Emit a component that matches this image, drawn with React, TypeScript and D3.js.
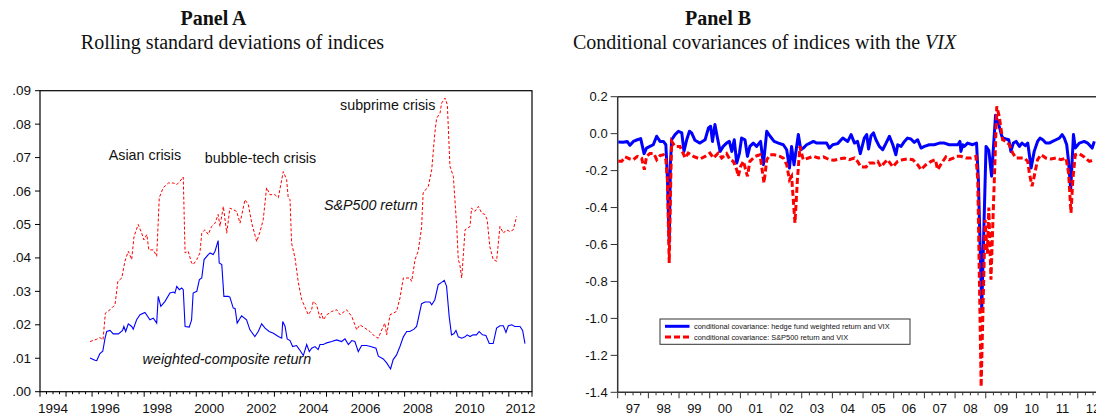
import React from 'react';
import * as d3 from 'd3';

// ---------- Panel A data (rolling standard deviations) ----------
const spStdYears = [1995.92,1996.18,1996.30,1996.42,1996.51,1996.69,1996.88,1996.99,1997.14,1997.26,1997.39,1997.52,1997.61,1997.77,1997.90,1997.99,1998.10,1998.18,1998.35,1998.48,1998.58,1998.73,1998.93,1999.12,1999.25,1999.37,1999.50,1999.57,1999.69,1999.82,1999.88,2000.02,2000.14,2000.21,2000.33,2000.46,2000.59,2000.72,2000.84,2000.91,2001.04,2001.17,2001.29,2001.42,2001.55,2001.68,2001.87,2002.00,2002.13,2002.32,2002.45,2002.57,2002.70,2002.83,2003.02,2003.15,2003.34,2003.47,2003.53,2003.60,2003.66,2003.79,2003.92,2004.05,2004.30,2004.43,2004.49,2004.62,2004.75,2004.81,2004.88,2005.01,2005.20,2005.39,2005.52,2005.77,2005.97,2006.16,2006.28,2006.48,2006.67,2006.86,2006.99,2007.12,2007.24,2007.31,2007.44,2007.69,2007.82,2007.95,2008.20,2008.27,2008.40,2008.52,2008.65,2008.71,2008.91,2009.04,2009.16,2009.23,2009.36,2009.42,2009.55,2009.64,2009.74,2009.87,2010.00,2010.06,2010.12,2010.19,2010.25,2010.32,2010.51,2010.57,2010.70,2010.83,2010.96,2011.08,2011.17,2011.27,2011.40,2011.53,2011.66,2011.79,2011.91,2012.04,2012.17,2012.30];
const spStd = [0.0150,0.0157,0.0162,0.0155,0.0235,0.0245,0.0260,0.0330,0.0340,0.0390,0.0420,0.0395,0.0464,0.0500,0.0475,0.0454,0.0470,0.0424,0.0424,0.0405,0.0580,0.0610,0.0624,0.0624,0.0619,0.0629,0.0642,0.0415,0.0420,0.0385,0.0380,0.0395,0.0415,0.0474,0.0484,0.0470,0.0494,0.0504,0.0530,0.0494,0.0554,0.0474,0.0549,0.0544,0.0539,0.0504,0.0574,0.0559,0.0504,0.0449,0.0479,0.0514,0.0610,0.0589,0.0589,0.0580,0.0658,0.0634,0.0580,0.0574,0.0444,0.0400,0.0325,0.0275,0.0230,0.0245,0.0270,0.0260,0.0220,0.0235,0.0215,0.0230,0.0240,0.0245,0.0230,0.0245,0.0225,0.0185,0.0200,0.0190,0.0180,0.0165,0.0160,0.0185,0.0205,0.0170,0.0230,0.0240,0.0280,0.0340,0.0340,0.0330,0.0395,0.0420,0.0490,0.0594,0.0614,0.0664,0.0774,0.0818,0.0833,0.0863,0.0878,0.0858,0.0674,0.0644,0.0494,0.0395,0.0380,0.0340,0.0405,0.0484,0.0494,0.0549,0.0539,0.0554,0.0534,0.0530,0.0514,0.0434,0.0395,0.0390,0.0494,0.0474,0.0484,0.0479,0.0484,0.0524];

const compStdYears = [1995.92,1996.11,1996.18,1996.30,1996.41,1996.50,1996.56,1996.69,1996.81,1997.01,1997.17,1997.22,1997.29,1997.39,1997.52,1997.58,1997.71,1997.84,1998.03,1998.22,1998.35,1998.48,1998.54,1998.64,1998.80,1998.99,1999.12,1999.18,1999.25,1999.35,1999.44,1999.50,1999.57,1999.73,1999.82,1999.88,2000.02,2000.12,2000.21,2000.30,2000.46,2000.53,2000.65,2000.72,2000.84,2000.88,2000.98,2001.06,2001.23,2001.29,2001.42,2001.49,2001.57,2001.74,2001.93,2002.06,2002.25,2002.38,2002.51,2002.64,2002.80,2002.96,2003.15,2003.28,2003.32,2003.41,2003.49,2003.60,2003.70,2003.85,2003.96,2004.11,2004.24,2004.34,2004.43,2004.56,2004.68,2004.75,2004.88,2005.01,2005.20,2005.39,2005.58,2005.71,2005.84,2005.97,2006.09,2006.22,2006.35,2006.54,2006.69,2006.90,2006.99,2007.18,2007.31,2007.46,2007.56,2007.69,2007.82,2007.95,2008.08,2008.20,2008.36,2008.46,2008.65,2008.78,2008.97,2009.04,2009.16,2009.29,2009.42,2009.52,2009.61,2009.71,2009.80,2009.89,2009.97,2010.06,2010.19,2010.32,2010.40,2010.51,2010.63,2010.76,2010.86,2010.99,2011.12,2011.25,2011.40,2011.53,2011.66,2011.79,2011.89,2011.98,2012.11,2012.23,2012.43,2012.53,2012.62];
const compStd = [0.0101,0.0094,0.0093,0.0114,0.0121,0.0161,0.0180,0.0183,0.0173,0.0173,0.0183,0.0195,0.0180,0.0203,0.0195,0.0187,0.0215,0.0230,0.0237,0.0215,0.0220,0.0205,0.0285,0.0255,0.0270,0.0295,0.0298,0.0295,0.0315,0.0305,0.0310,0.0305,0.0195,0.0193,0.0215,0.0295,0.0300,0.0335,0.0340,0.0395,0.0410,0.0415,0.0410,0.0420,0.0452,0.0385,0.0380,0.0285,0.0285,0.0283,0.0250,0.0249,0.0205,0.0227,0.0215,0.0185,0.0165,0.0180,0.0203,0.0190,0.0180,0.0175,0.0165,0.0160,0.0210,0.0195,0.0158,0.0153,0.0135,0.0138,0.0126,0.0108,0.0141,0.0120,0.0130,0.0135,0.0126,0.0141,0.0141,0.0146,0.0150,0.0155,0.0150,0.0158,0.0141,0.0153,0.0150,0.0120,0.0138,0.0138,0.0135,0.0130,0.0106,0.0098,0.0086,0.0068,0.0096,0.0110,0.0135,0.0164,0.0180,0.0180,0.0187,0.0195,0.0263,0.0268,0.0268,0.0260,0.0275,0.0320,0.0327,0.0333,0.0315,0.0225,0.0170,0.0173,0.0183,0.0164,0.0160,0.0164,0.0170,0.0165,0.0170,0.0170,0.0180,0.0170,0.0168,0.0144,0.0144,0.0190,0.0197,0.0197,0.0177,0.0197,0.0200,0.0195,0.0195,0.0183,0.0144];

// ---------- Panel B data (conditional covariances with VIX) ----------
const hfCovYears = [1997.02,1997.18,1997.31,1997.40,1997.51,1997.64,1997.75,1997.86,1997.94,1998.05,1998.16,1998.27,1998.38,1998.49,1998.57,1998.62,1998.68,1998.72,1998.76,1998.87,1998.98,1999.09,1999.16,1999.25,1999.34,1999.41,1999.52,1999.68,1999.85,1999.96,2000.03,2000.09,2000.17,2000.23,2000.34,2000.44,2000.55,2000.64,2000.72,2000.80,2000.88,2000.97,2001.04,2001.15,2001.23,2001.31,2001.42,2001.53,2001.66,2001.75,2001.86,2001.97,2002.10,2002.24,2002.40,2002.51,2002.60,2002.67,2002.75,2002.89,2002.97,2003.05,2003.16,2003.27,2003.38,2003.49,2003.65,2003.81,2003.90,2004.01,2004.17,2004.34,2004.50,2004.61,2004.72,2004.82,2004.91,2005.04,2005.12,2005.18,2005.26,2005.34,2005.42,2005.53,2005.64,2005.75,2005.86,2005.97,2006.07,2006.13,2006.24,2006.35,2006.45,2006.56,2006.67,2006.78,2006.89,2007.00,2007.16,2007.32,2007.49,2007.65,2007.81,2007.98,2008.09,2008.16,2008.19,2008.25,2008.30,2008.41,2008.57,2008.70,2008.76,2008.87,2009.01,2009.10,2009.19,2009.32,2009.41,2009.52,2009.57,2009.66,2009.75,2009.82,2009.90,2009.99,2010.10,2010.18,2010.29,2010.37,2010.48,2010.58,2010.69,2010.77,2010.86,2010.96,2011.07,2011.18,2011.29,2011.40,2011.49,2011.56,2011.64,2011.70,2011.77,2011.86,2011.92,2012.05,2012.21,2012.32,2012.47,2012.54];
const hfCov = [-0.045,-0.047,-0.042,-0.063,-0.042,-0.033,-0.027,-0.108,-0.078,-0.069,-0.060,-0.014,-0.042,-0.042,-0.060,-0.231,-0.590,-0.159,-0.033,-0.005,0.013,0.004,-0.096,-0.033,0.013,0.004,-0.036,-0.051,-0.033,0.031,0.040,-0.042,0.049,-0.005,-0.096,-0.069,-0.051,-0.042,-0.096,-0.033,-0.159,-0.105,-0.024,-0.033,-0.123,-0.069,-0.051,-0.069,-0.042,-0.168,0.013,-0.014,-0.042,-0.051,-0.060,-0.087,-0.186,-0.069,-0.168,-0.005,-0.087,-0.078,-0.060,-0.051,-0.042,-0.051,-0.051,-0.051,-0.078,-0.060,-0.054,-0.024,-0.042,-0.005,-0.051,-0.042,-0.108,-0.024,-0.005,-0.083,-0.011,0.004,-0.033,-0.069,-0.087,-0.051,-0.014,-0.060,-0.114,-0.060,-0.069,-0.042,-0.024,-0.029,-0.047,-0.033,-0.078,-0.069,-0.060,-0.060,-0.051,-0.051,-0.060,-0.060,-0.060,-0.042,-0.096,-0.060,-0.069,-0.051,-0.060,-0.051,-0.249,-0.950,-0.069,-0.090,-0.230,0.100,0.058,-0.012,-0.024,-0.029,-0.033,-0.096,-0.051,-0.042,-0.069,-0.051,-0.065,-0.051,-0.186,-0.096,-0.042,-0.024,-0.033,-0.051,-0.051,-0.042,-0.033,-0.024,-0.005,-0.024,-0.060,-0.150,-0.303,-0.005,-0.078,-0.051,-0.042,-0.051,-0.078,-0.042];

const spCovYears = [1997.02,1997.13,1997.24,1997.40,1997.51,1997.64,1997.78,1997.87,1997.94,1998.05,1998.18,1998.27,1998.38,1998.49,1998.57,1998.62,1998.68,1998.73,1998.76,1998.87,1999.03,1999.20,1999.30,1999.47,1999.68,1999.85,2000.01,2000.12,2000.28,2000.39,2000.55,2000.66,2000.77,2000.88,2000.93,2001.01,2001.10,2001.23,2001.31,2001.48,2001.64,2001.77,2001.86,2001.97,2002.10,2002.29,2002.40,2002.51,2002.60,2002.67,2002.78,2002.86,2002.94,2003.05,2003.22,2003.38,2003.54,2003.71,2003.90,2004.06,2004.23,2004.39,2004.55,2004.72,2004.82,2004.93,2005.10,2005.20,2005.37,2005.48,2005.58,2005.69,2005.80,2005.97,2006.13,2006.29,2006.45,2006.62,2006.78,2006.89,2007.05,2007.22,2007.36,2007.43,2007.60,2007.70,2007.81,2007.94,2008.03,2008.19,2008.36,2008.52,2008.68,2008.74,2008.85,2008.98,2009.05,2009.10,2009.17,2009.36,2009.44,2009.55,2009.66,2009.77,2009.88,2009.99,2010.15,2010.26,2010.37,2010.42,2010.51,2010.58,2010.69,2010.80,2010.96,2011.13,2011.29,2011.45,2011.62,2011.70,2011.78,2011.84,2011.92,2012.05,2012.21,2012.38,2012.54];
const spCov = [-0.150,-0.150,-0.126,-0.137,-0.141,-0.123,-0.132,-0.195,-0.123,-0.108,-0.108,-0.141,-0.119,-0.114,-0.141,-0.249,-0.700,-0.249,-0.042,-0.069,-0.069,-0.132,-0.105,-0.123,-0.137,-0.123,-0.105,-0.132,-0.105,-0.132,-0.108,-0.141,-0.150,-0.195,-0.231,-0.177,-0.150,-0.231,-0.150,-0.123,-0.114,-0.267,-0.141,-0.114,-0.114,-0.123,-0.132,-0.168,-0.249,-0.231,-0.483,-0.249,-0.069,-0.141,-0.132,-0.123,-0.132,-0.126,-0.141,-0.144,-0.137,-0.132,-0.141,-0.132,-0.150,-0.180,-0.180,-0.159,-0.159,-0.150,-0.180,-0.159,-0.141,-0.180,-0.150,-0.141,-0.137,-0.141,-0.168,-0.195,-0.168,-0.150,-0.141,-0.195,-0.150,-0.126,-0.141,-0.132,-0.123,-0.123,-0.132,-0.132,-0.123,-0.249,-1.370,-0.466,-0.650,-0.400,-0.790,0.148,0.094,-0.033,-0.042,-0.060,-0.105,-0.132,-0.132,-0.132,-0.150,-0.213,-0.285,-0.231,-0.141,-0.114,-0.132,-0.137,-0.132,-0.141,-0.132,-0.213,-0.429,-0.249,-0.114,-0.108,-0.126,-0.150,-0.141];

// ---------- tick labels ----------
const aYTickValues = [0, 0.01, 0.02, 0.03, 0.04, 0.05, 0.06, 0.07, 0.08, 0.09];
const aYTickLabels = ['.00', '.01', '.02', '.03', '.04', '.05', '.06', '.07', '.08', '.09'];
const aYearLabels = [1994, 1996, 1998, 2000, 2002, 2004, 2006, 2008, 2010, 2012];
const bYTickValues = [0.2, 0.0, -0.2, -0.4, -0.6, -0.8, -1.0, -1.2, -1.4];
const bYTickLabels = ['0.2', '0.0', '-0.2', '-0.4', '-0.6', '-0.8', '-1.0', '-1.2', '-1.4'];
const bYears = [1997, 1998, 1999, 2000, 2001, 2002, 2003, 2004, 2005, 2006, 2007, 2008, 2009, 2010, 2011, 2012];

const annotationsA = [
  { text: 'Asian crisis', year: 1996.64, value: 0.0693, italic: false },
  { text: 'bubble-tech crisis', year: 2000.33, value: 0.0685, italic: false },
  { text: 'subprime crisis', year: 2005.52, value: 0.0841, italic: false },
  { text: 'S&P500 return', year: 2004.90, value: 0.0542, italic: true },
  { text: 'weighted-composite return', year: 1997.94, value: 0.0082, italic: true },
];

const legendItems = [
  { label: 'conditional covariance: hedge fund weighted return and VIX', color: '#0000ff', dash: null },
  { label: 'conditional covariance: S&P500 return and VIX', color: '#ff0000', dash: '6,3' },
];

const SANS = '"Liberation Sans", Arial, Helvetica, sans-serif';
const SERIF = '"Liberation Serif", "Times New Roman", serif';

export default function App() {
  // Panel A scales
  const xA = d3.scaleLinear().domain([1994, 2012.89]).range([40, 532]);
  const yA = d3.scaleLinear().domain([0, 0.09]).range([391.7, 90.7]);
  // Panel B scales
  const xB = d3.scaleLinear().domain([1997, 2013]).range([617.7, 617.7 + 16 * 30.67]);
  const yB = d3.scaleLinear().domain([-1.4, 0.2]).range([392.3, 96.7]);

  const lineA = d3.line<[number, number]>().x(d => xA(d[0])).y(d => yA(d[1]));
  const lineB = d3.line<[number, number]>().x(d => xB(d[0])).y(d => yB(d[1]));

  const spPts = spStdYears.map((t, i) => [t, spStd[i]] as [number, number]);
  const compPts = compStdYears.map((t, i) => [t, compStd[i]] as [number, number]);
  const hfPts = hfCovYears.map((t, i) => [t, hfCov[i]] as [number, number]);
  const spcPts = spCovYears.map((t, i) => [t, spCov[i]] as [number, number]);

  const [ax0, ax1] = xA.range();
  const [ay0, ay1] = [yA(0), yA(0.09)];
  const bx0 = xB(1997);
  const bx1 = xB(2013);
  const by0 = yB(-1.4);
  const by1 = yB(0.2);

  const aQuarters = d3.range(1994, 2012.9, 0.25).filter(q => q <= 2012.89);
  const bQuarters = d3.range(1997, 2013.01, 0.25);

  return (
    <svg width={1096} height={415} style={{ position: 'absolute', left: 0, top: 0, background: '#fff' }}>
      <defs>
        <clipPath id="clipB">
          <rect x={bx0} y={by1 - 2} width={bx1 - bx0} height={by0 - by1 + 4} />
        </clipPath>
      </defs>
      <rect x={0} y={0} width={1096} height={415} fill="#fff" />

      {/* Titles */}
      <text x={213.5} y={25} textAnchor="middle" fontFamily={SERIF} fontWeight="bold" fontSize={20} fill="#111">Panel A</text>
      <text x={232.5} y={48.5} textAnchor="middle" fontFamily={SERIF} fontSize={20} fill="#111">Rolling standard deviations of indices</text>
      <text x={718} y={25} textAnchor="middle" fontFamily={SERIF} fontWeight="bold" fontSize={20} fill="#111">Panel B</text>
      <text x={764.5} y={48.5} textAnchor="middle" fontFamily={SERIF} fontSize={20} fill="#111">
        Conditional covariances of indices with the <tspan fontStyle="italic">VIX</tspan>
      </text>

      {/* ---------- Panel A ---------- */}
      <rect x={ax0} y={ay1} width={ax1 - ax0} height={ay0 - ay1} fill="none" stroke="#000" strokeWidth={1.2} />
      {aYTickValues.map((v, i) => (
        <g key={'ay' + i}>
          <line x1={ax0 - 5} x2={ax0} y1={yA(v)} y2={yA(v)} stroke="#000" strokeWidth={1} />
          <text x={ax0 - 9} y={yA(v) + 4.5} textAnchor="end" fontFamily={SANS} fontSize={13.5} fill="#111">{aYTickLabels[i]}</text>
        </g>
      ))}
      {aQuarters.map((q, i) => {
        const major = Math.abs(q - Math.round(q)) < 1e-6;
        return <line key={'aq' + i} x1={xA(q)} x2={xA(q)} y1={ay0} y2={ay0 + (major ? 5 : 2.5)} stroke="#000" strokeWidth={1} />;
      })}
      <line x1={ax1} x2={ax1} y1={ay0} y2={ay0 + 5} stroke="#000" strokeWidth={1} />
      {aYearLabels.map(yr => {
        const mid = (xA(yr) + Math.min(xA(yr + 1), ax1)) / 2;
        return <text key={'ayl' + yr} x={mid} y={413} textAnchor="middle" fontFamily={SANS} fontSize={13.5} fill="#111">{yr}</text>;
      })}
      <path d={lineA(spPts) || ''} fill="none" stroke="#ff0000" strokeWidth={1} strokeDasharray="3,2" />
      <path d={lineA(compPts) || ''} fill="none" stroke="#0000ff" strokeWidth={1.1} />
      {annotationsA.map((a, i) => (
        <text key={'an' + i} x={xA(a.year)} y={yA(a.value)} fontFamily={SANS} fontSize={14.3} fontStyle={a.italic ? 'italic' : 'normal'} fill="#111">{a.text}</text>
      ))}

      {/* ---------- Panel B ---------- */}
      <line x1={bx0} x2={1100} y1={by1} y2={by1} stroke="#333" strokeWidth={1.5} />
      <line x1={bx0} x2={bx0} y1={by1} y2={by0} stroke="#333" strokeWidth={1.5} />
      <line x1={bx0} x2={1100} y1={by0} y2={by0} stroke="#333" strokeWidth={1.5} />
      {bYTickValues.map((v, i) => (
        <g key={'by' + i}>
          <line x1={bx0 - 7} x2={bx0} y1={yB(v)} y2={yB(v)} stroke="#333" strokeWidth={1} />
          <text x={bx0 - 10} y={yB(v) + 4.5} textAnchor="end" fontFamily={SANS} fontSize={13} fill="#111">{bYTickLabels[i]}</text>
        </g>
      ))}
      {bQuarters.map((q, i) => {
        const major = Math.abs(q - Math.round(q)) < 1e-6;
        return <line key={'bq' + i} x1={xB(q)} x2={xB(q)} y1={by0} y2={by0 + (major ? 6 : 3)} stroke="#333" strokeWidth={1} />;
      })}
      {bYears.map(yr => (
        <text key={'byl' + yr} x={(xB(yr) + xB(yr + 1)) / 2} y={413} textAnchor="middle" fontFamily={SANS} fontSize={13} fill="#111">{String(yr).slice(2)}</text>
      ))}
      <g clipPath="url(#clipB)">
        <path d={lineB(hfPts) || ''} fill="none" stroke="#0000ff" strokeWidth={3} strokeLinejoin="round" />
        <path d={lineB(spcPts) || ''} fill="none" stroke="#ff0000" strokeWidth={3} strokeDasharray="6,3" />
      </g>

      {/* Legend */}
      <rect x={660} y={319} width={250} height={25.3} fill="#fff" stroke="#333" strokeWidth={1} />
      {legendItems.map((it, i) => (
        <g key={'lg' + i}>
          <line x1={665} x2={689.5} y1={326.3 + i * 10.7} y2={326.3 + i * 10.7} stroke={it.color} strokeWidth={3} strokeDasharray={it.dash || undefined} />
          <text x={694} y={329 + i * 10.7} fontFamily={SANS} fontSize={7.4} fill="#111">{it.label}</text>
        </g>
      ))}
    </svg>
  );
}
